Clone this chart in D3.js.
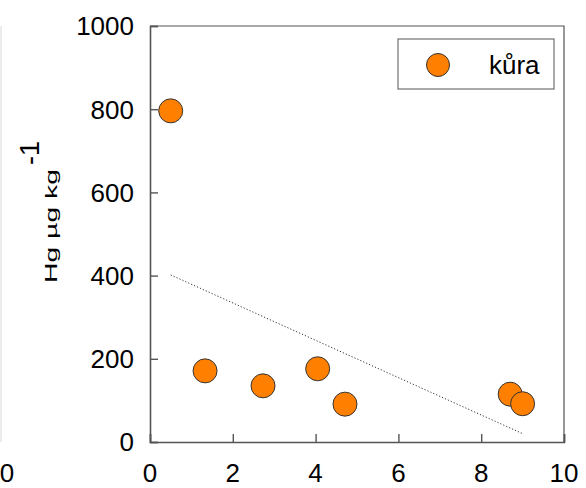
<!DOCTYPE html>
<html>
<head>
<meta charset="utf-8">
<script src="https://cdn.jsdelivr.net/npm/d3@7"></script>
<style>
  html, body { margin: 0; padding: 0; background: #fff; }
  svg { display: block; }
  text { font-family: "Liberation Sans", Arial, sans-serif; fill: #000; }
</style>
</head>
<body>
<svg id="chart" width="586" height="488"></svg>
<script>
// Bark (kůra) mercury content vs. distance
const seriesName = "kůra";
const xValues = [0.5, 1.33, 2.73, 4.05, 4.71, 8.7, 9.0];
const yValues = [796, 171, 135, 176, 91, 115, 92];
const xTicks = [0, 2, 4, 6, 8, 10];
const yTicks = [0, 200, 400, 600, 800, 1000];
const yTitle = "Hg µg kg";
const yTitleSup = "-1";

const svg = d3.select("#chart");
const plot = { left: 150, right: 564, top: 26, bottom: 442 };

const x = d3.scaleLinear().domain([0, 10]).range([plot.left, plot.right]);
const y = d3.scaleLinear().domain([0, 1000]).range([plot.bottom, plot.top]);

const axisColor = "#555";

// faint frame edge at the far left
svg.append("line")
  .attr("x1", 1).attr("x2", 1)
  .attr("y1", plot.top).attr("y2", plot.bottom)
  .attr("stroke", "#d8d8d8").attr("stroke-width", 1);

// plot frame (top and right)
svg.append("path")
  .attr("d", `M${plot.left},${plot.top}H${plot.right}V${plot.bottom}`)
  .attr("fill", "none").attr("stroke", axisColor).attr("stroke-width", 1.2);

// y axis with inward ticks
const yAxis = d3.axisRight(y).tickValues(yTicks).tickSize(8).tickFormat("");
const gy = svg.append("g").attr("transform", `translate(${plot.left},0)`).call(yAxis);
gy.select(".domain").attr("stroke", axisColor).attr("stroke-width", 1.6);
gy.selectAll(".tick line").attr("stroke", axisColor).attr("stroke-width", 1.4);

// x axis with inward ticks
const xAxis = d3.axisTop(x).tickValues(xTicks).tickSize(8).tickFormat("");
const gx = svg.append("g").attr("transform", `translate(0,${plot.bottom})`).call(xAxis);
gx.select(".domain").attr("stroke", axisColor).attr("stroke-width", 1.6);
gx.selectAll(".tick line").attr("stroke", axisColor).attr("stroke-width", 1.4);

// tick labels
svg.append("g").selectAll("text").data(yTicks).join("text")
  .attr("x", 134).attr("y", d => y(d))
  .attr("dy", "0.36em")
  .attr("text-anchor", "end")
  .attr("font-size", 26)
  .text(d => d);

svg.append("g").selectAll("text").data(xTicks).join("text")
  .attr("x", d => x(d)).attr("y", 482)
  .attr("text-anchor", "middle")
  .attr("font-size", 26)
  .text(d => d);

// stray label at the far left edge
svg.append("text")
  .attr("x", 7).attr("y", 482)
  .attr("text-anchor", "middle")
  .attr("font-size", 26)
  .text("0");

// y axis title, squashed across and stretched along, with raised exponent
const title = svg.append("g").attr("transform", "translate(57,283) rotate(-90)");
const titleText = title.append("text")
  .attr("font-size", 27)
  .text(yTitle);
const titleLen = titleText.node().getComputedTextLength();
titleText.attr("transform", `scale(${114 / titleLen},0.62)`);
title.append("text")
  .attr("x", 118).attr("y", -18)
  .attr("font-size", 27)
  .text(yTitleSup);

// least-squares trend line through the points
const n = xValues.length;
const mx = d3.mean(xValues), my = d3.mean(yValues);
let sxy = 0, sxx = 0;
for (let i = 0; i < n; i++) {
  sxy += (xValues[i] - mx) * (yValues[i] - my);
  sxx += (xValues[i] - mx) ** 2;
}
const slope = sxy / sxx;
const intercept = my - slope * mx;
const [x0, x1] = d3.extent(xValues);
svg.append("line")
  .attr("x1", x(x0)).attr("y1", y(intercept + slope * x0))
  .attr("x2", x(x1)).attr("y2", y(intercept + slope * x1))
  .attr("stroke", "#333").attr("stroke-width", 1)
  .attr("stroke-dasharray", "1.2,2");

// data points
const fill = "#ff8000";
svg.append("g").selectAll("circle").data(d3.range(n)).join("circle")
  .attr("cx", i => x(xValues[i]))
  .attr("cy", i => y(yValues[i]))
  .attr("r", 12)
  .attr("fill", fill)
  .attr("stroke", "#333").attr("stroke-width", 1);

// legend
const legend = svg.append("g");
legend.append("rect")
  .attr("x", 398).attr("y", 39).attr("width", 156).attr("height", 50)
  .attr("fill", "#fff").attr("stroke", "#555").attr("stroke-width", 1);
legend.append("circle")
  .attr("cx", 438).attr("cy", 65).attr("r", 11.5)
  .attr("fill", fill).attr("stroke", "#333").attr("stroke-width", 1);
legend.append("text")
  .attr("x", 489).attr("y", 74)
  .attr("font-size", 26)
  .text(seriesName);
</script>
</body>
</html>
